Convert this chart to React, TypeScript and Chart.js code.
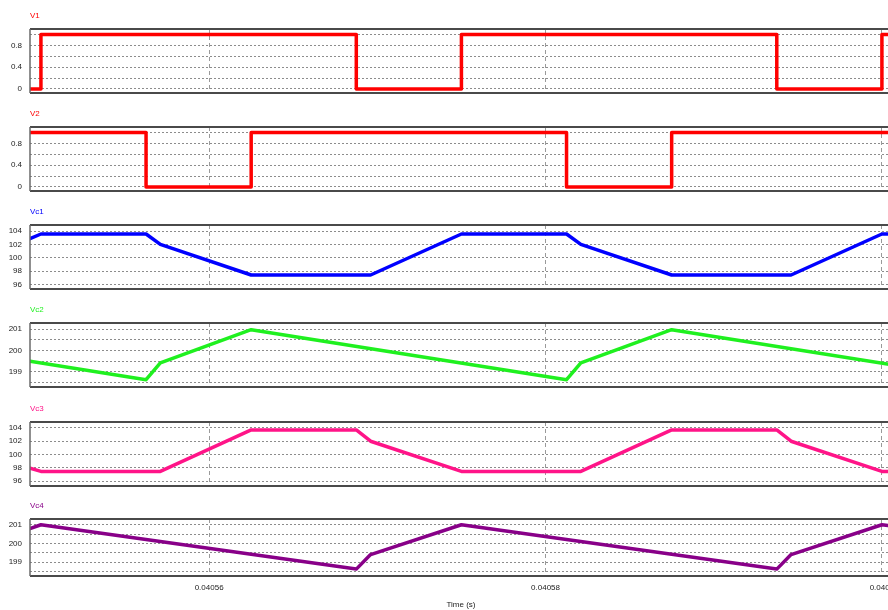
import React, { useEffect, useRef } from "react";
import { Chart, registerables } from "chart.js";

Chart.register(...registerables);

// Time axis, in microseconds (labels are shown in seconds)
const timeStart = 40549.35;
const timeEnd = 40600.6;
const timeTicks = [40560, 40580, 40600];
const timeAxisTitle = "Time (s)";

// Gate signal V1
const v1Time = [40549.35, 40550, 40550, 40568.75, 40568.75, 40575, 40575, 40593.75, 40593.75, 40600, 40600, 40600.6];
const v1Value = [0, 0, 1, 1, 0, 0, 1, 1, 0, 0, 1, 1];

// Gate signal V2
const v2Time = [40549.35, 40556.25, 40556.25, 40562.5, 40562.5, 40581.25, 40581.25, 40587.5, 40587.5, 40600.6];
const v2Value = [1, 1, 0, 0, 1, 1, 0, 0, 1, 1];

// Capacitor voltage Vc1
const vc1Time = [40549.35, 40550, 40556.25, 40557.1, 40562.5, 40569.6, 40575, 40581.25, 40582.1, 40587.5, 40594.6, 40600, 40600.6];
const vc1Value = [102.85, 103.55, 103.55, 102.0, 97.4, 97.4, 103.55, 103.55, 102.0, 97.4, 97.4, 103.55, 103.55];

// Capacitor voltage Vc2
const vc2Time = [40549.35, 40556.25, 40557.1, 40562.5, 40581.25, 40582.1, 40587.5, 40600.6];
const vc2Value = [199.5, 198.64, 199.42, 200.97, 198.64, 199.42, 200.97, 199.34];

// Capacitor voltage Vc3
const vc3Time = [40549.35, 40550, 40557.1, 40562.5, 40568.75, 40569.6, 40575, 40582.1, 40587.5, 40593.75, 40594.6, 40600, 40600.6];
const vc3Value = [97.95, 97.45, 97.45, 103.7, 103.7, 102.0, 97.45, 97.45, 103.7, 103.7, 102.0, 97.45, 97.45];

// Capacitor voltage Vc4
const vc4Time = [40549.35, 40550, 40568.75, 40569.6, 40575, 40593.75, 40594.6, 40600, 40600.6];
const vc4Value = [200.8, 201.0, 198.62, 199.4, 201.0, 198.62, 199.4, 201.0, 200.93];

// Y grid lines and which of them carry a label
const gateGrid = [0, 0.2, 0.4, 0.6, 0.8, 1];
const gateLabels = [0, 0.4, 0.8];
const halfGrid = [96, 98, 100, 102, 104];
const halfLabels = [96, 98, 100, 102, 104];
const fullGrid = [198.5, 199, 199.5, 200, 200.5, 201];
const fullLabels = [199, 200, 201];

const FONT = "'Liberation Sans', Arial, sans-serif";
const CANVAS_W = 910;
const AXIS_W = 30;
const RIGHT_PAD = 18;
const TITLE_SPACE = 26;

type PanelCfg = {
  title: string;
  color: string;
  time: number[];
  value: number[];
  min: number;
  max: number;
  grid: number[];
  labels: number[];
  top: number;
  bottom: number;
  last?: boolean;
};

const panels: PanelCfg[] = [
  { title: "V1", color: "#ff0000", time: v1Time, value: v1Value, min: -0.075, max: 1.1, grid: gateGrid, labels: gateLabels, top: 29, bottom: 93 },
  { title: "V2", color: "#ff0000", time: v2Time, value: v2Value, min: -0.075, max: 1.1, grid: gateGrid, labels: gateLabels, top: 127, bottom: 191 },
  { title: "Vc1", color: "#0000ff", time: vc1Time, value: vc1Value, min: 95.3, max: 104.9, grid: halfGrid, labels: halfLabels, top: 225, bottom: 289 },
  { title: "Vc2", color: "#1ff01f", time: vc2Time, value: vc2Value, min: 198.3, max: 201.28, grid: fullGrid, labels: fullLabels, top: 323, bottom: 387 },
  { title: "Vc3", color: "#ff1488", time: vc3Time, value: vc3Value, min: 95.25, max: 104.9, grid: halfGrid, labels: halfLabels, top: 422, bottom: 486 },
  { title: "Vc4", color: "#880088", time: vc4Time, value: vc4Value, min: 198.25, max: 201.31, grid: fullGrid, labels: fullLabels, top: 519, bottom: 576, last: true },
];

const formatTime = (v: number) => String(parseFloat((v / 1e6).toFixed(6)));

function Panel({ cfg }: { cfg: PanelCfg }) {
  const ref = useRef<HTMLCanvasElement>(null);
  const canvasTop = cfg.top - TITLE_SPACE;
  const bottomSpace = cfg.last ? 610 - cfg.bottom : 4;
  const height = cfg.bottom - cfg.top + TITLE_SPACE + bottomSpace;

  useEffect(() => {
    const framePlugin = {
      id: "panelFrame",
      afterDraw(chart: any) {
        const { ctx, chartArea } = chart;
        const { left, top, right, bottom } = chartArea;
        ctx.save();
        ctx.lineCap = "butt";
        ctx.strokeStyle = "#4a4a4a";
        ctx.lineWidth = 2;
        ctx.beginPath();
        ctx.moveTo(left, top);
        ctx.lineTo(right, top);
        ctx.moveTo(left, bottom);
        ctx.lineTo(right, bottom);
        ctx.stroke();
        ctx.strokeStyle = "#6a6a6a";
        ctx.lineWidth = 1.5;
        ctx.beginPath();
        ctx.moveTo(left, top);
        ctx.lineTo(left, bottom);
        ctx.stroke();
        ctx.fillStyle = cfg.color;
        ctx.font = `8px ${FONT}`;
        ctx.textBaseline = "middle";
        ctx.textAlign = "left";
        ctx.fillText(cfg.title, left, top - 13);
        ctx.restore();
      },
    };

    const points = cfg.time.map((t, i) => ({ x: t, y: cfg.value[i] }));

    const chart = new Chart(ref.current as HTMLCanvasElement, {
      type: "line",
      data: {
        datasets: [
          {
            label: cfg.title,
            data: points,
            borderColor: cfg.color,
            backgroundColor: cfg.color,
            borderWidth: 3.5,
            pointRadius: 0,
            tension: 0,
            fill: false,
            borderJoinStyle: "round",
            borderCapStyle: "round",
          },
        ],
      },
      options: {
        responsive: false,
        animation: false,
        events: [],
        layout: { padding: { top: TITLE_SPACE, bottom: cfg.last ? 0 : bottomSpace, left: 0, right: RIGHT_PAD } },
        plugins: {
          legend: { display: false },
          tooltip: { enabled: false },
          title: { display: false },
        },
        scales: {
          x: {
            type: "linear",
            min: timeStart,
            max: timeEnd,
            afterBuildTicks: (s: any) => {
              s.ticks = timeTicks.map((v) => ({ value: v }));
            },
            afterFit: (s: any) => {
              s.height = cfg.last ? bottomSpace : 0;
              s.paddingLeft = 0;
              s.paddingRight = 0;
            },
            ticks: {
              display: !!cfg.last,
              autoSkip: false,
              maxRotation: 0,
              padding: 7,
              color: "#222",
              font: { family: FONT, size: 8 },
              callback: (v: any) => formatTime(Number(v)),
            },
            title: {
              display: !!cfg.last,
              text: timeAxisTitle,
              color: "#222",
              font: { family: FONT, size: 8 },
              padding: { top: 0, bottom: 0 },
            },
            grid: { color: "#9a9a9a", lineWidth: 1, drawTicks: false },
            border: { display: false, dash: [4, 3] },
          },
          y: {
            type: "linear",
            min: cfg.min,
            max: cfg.max,
            afterBuildTicks: (s: any) => {
              s.ticks = cfg.grid.map((v) => ({ value: v }));
            },
            afterFit: (s: any) => {
              s.width = AXIS_W;
              s.paddingTop = 0;
              s.paddingBottom = 0;
            },
            ticks: {
              autoSkip: false,
              padding: 8,
              color: "#222",
              font: { family: FONT, size: 8 },
              callback: (v: any) => (cfg.labels.includes(Number(v)) ? String(v) : ""),
            },
            grid: { color: "#8c8c8c", lineWidth: 1, drawTicks: false },
            border: { display: false, dash: [2, 2] },
          },
        },
      },
      plugins: [framePlugin],
    } as any);
    return () => chart.destroy();
  }, []);

  return (
    <canvas
      ref={ref}
      width={CANVAS_W}
      height={height}
      style={{ position: "absolute", left: 0, top: canvasTop, width: CANVAS_W, height }}
    />
  );
}

export default function App() {
  return (
    <div
      style={{
        position: "fixed",
        left: 0,
        top: 0,
        width: 888,
        height: 610,
        overflow: "hidden",
        background: "#ffffff",
      }}
    >
      {panels.map((p) => (
        <Panel key={p.title} cfg={p} />
      ))}
    </div>
  );
}
